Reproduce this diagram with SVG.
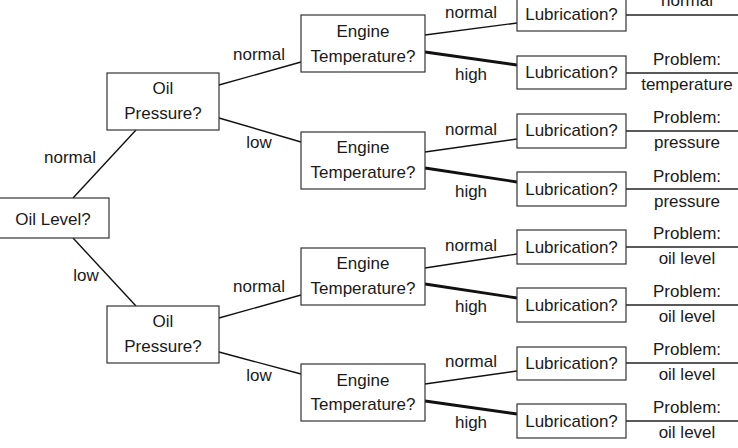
<svg xmlns="http://www.w3.org/2000/svg" width="738" height="448" viewBox="0 0 738 448">
<style>
text{font-family:"Liberation Sans",Arial,sans-serif;font-size:17px;fill:#1a1a1a;text-anchor:middle}
.b{fill:#fff;stroke:#333;stroke-width:1.2}
.c{stroke:#111;stroke-width:1.4;fill:none}
.t{stroke:#111;stroke-width:2.8;fill:none}
.r{stroke:#222;stroke-width:1.6;fill:none}
</style>
<rect width="738" height="448" fill="#fff"/>
<g id="connectors">
<line class="c" x1="73" y1="198" x2="136" y2="130"/>
<line class="c" x1="73" y1="238" x2="136" y2="306"/>
<line class="c" x1="219" y1="85" x2="301" y2="62"/>
<line class="c" x1="219" y1="118" x2="301" y2="142"/>
<line class="c" x1="219" y1="318" x2="301" y2="295"/>
<line class="c" x1="219" y1="352" x2="301" y2="374"/>
<line class="c" x1="425" y1="35" x2="517" y2="23"/>
<line class="t" x1="425" y1="52" x2="517" y2="65"/>
<line class="c" x1="425" y1="152" x2="517" y2="139"/>
<line class="t" x1="425" y1="168" x2="517" y2="182"/>
<line class="c" x1="425" y1="268" x2="517" y2="254"/>
<line class="t" x1="425" y1="284" x2="517" y2="298"/>
<line class="c" x1="425" y1="384" x2="517" y2="371"/>
<line class="t" x1="425" y1="401" x2="517" y2="414"/>
<line class="r" x1="626" y1="15" x2="738" y2="15"/>
<line class="r" x1="626" y1="73" x2="738" y2="73"/>
<line class="r" x1="626" y1="131" x2="738" y2="131"/>
<line class="r" x1="626" y1="189" x2="738" y2="189"/>
<line class="r" x1="626" y1="247" x2="738" y2="247"/>
<line class="r" x1="626" y1="305" x2="738" y2="305"/>
<line class="r" x1="626" y1="363" x2="738" y2="363"/>
<line class="r" x1="626" y1="421" x2="738" y2="421"/>
</g>
<g id="edge-labels">
<text x="70" y="163">normal</text>
<text x="86" y="281">low</text>
<text x="259" y="60">normal</text>
<text x="259" y="148">low</text>
<text x="259" y="292">normal</text>
<text x="259" y="381">low</text>
<text x="471" y="18">normal</text>
<text x="471" y="80">high</text>
<text x="471" y="135">normal</text>
<text x="471" y="197">high</text>
<text x="471" y="251">normal</text>
<text x="471" y="312">high</text>
<text x="471" y="367">normal</text>
<text x="471" y="428">high</text>
</g>
<g id="oil-level"><rect class="b" x="-2" y="198" width="111" height="40"/><text x="53" y="225">Oil Level?</text></g>
<g id="oil-pressure-1"><rect class="b" x="107" y="73" width="112" height="57"/><text x="163" y="94">Oil</text><text x="163" y="119">Pressure?</text></g>
<g id="oil-pressure-2"><rect class="b" x="107" y="306" width="112" height="57"/><text x="163" y="327">Oil</text><text x="163" y="352">Pressure?</text></g>
<g id="engine-temp-1"><rect class="b" x="301" y="15" width="124" height="57"/><text x="363" y="37">Engine</text><text x="363" y="62">Temperature?</text></g>
<g id="engine-temp-2"><rect class="b" x="301" y="132" width="124" height="57"/><text x="363" y="153">Engine</text><text x="363" y="178">Temperature?</text></g>
<g id="engine-temp-3"><rect class="b" x="301" y="248" width="124" height="57"/><text x="363" y="269">Engine</text><text x="363" y="294">Temperature?</text></g>
<g id="engine-temp-4"><rect class="b" x="301" y="364" width="124" height="57"/><text x="363" y="386">Engine</text><text x="363" y="410">Temperature?</text></g>
<g id="lub-1"><rect class="b" x="517" y="-2" width="109" height="33"/><text x="571.5" y="20">Lubrication?</text></g>
<g id="lub-2"><rect class="b" x="517" y="56" width="109" height="33"/><text x="571.5" y="78">Lubrication?</text></g>
<g id="lub-3"><rect class="b" x="517" y="114" width="109" height="34"/><text x="571.5" y="136">Lubrication?</text></g>
<g id="lub-4"><rect class="b" x="517" y="172" width="109" height="34"/><text x="571.5" y="195">Lubrication?</text></g>
<g id="lub-5"><rect class="b" x="517" y="230" width="109" height="34"/><text x="571.5" y="253">Lubrication?</text></g>
<g id="lub-6"><rect class="b" x="517" y="288" width="109" height="34"/><text x="571.5" y="311">Lubrication?</text></g>
<g id="lub-7"><rect class="b" x="517" y="347" width="109" height="33"/><text x="571.5" y="369">Lubrication?</text></g>
<g id="lub-8"><rect class="b" x="517" y="404" width="109" height="34"/><text x="571.5" y="427">Lubrication?</text></g>
<g id="results">
<text x="687" y="6">normal</text>
<text x="687" y="65">Problem:</text><text x="687" y="90">temperature</text>
<text x="687" y="123">Problem:</text><text x="687" y="148">pressure</text>
<text x="687" y="182">Problem:</text><text x="687" y="207">pressure</text>
<text x="687" y="239">Problem:</text><text x="687" y="264">oil level</text>
<text x="687" y="297">Problem:</text><text x="687" y="322">oil level</text>
<text x="687" y="355">Problem:</text><text x="687" y="380">oil level</text>
<text x="687" y="413">Problem:</text><text x="687" y="438">oil level</text>
</g>
</svg>
